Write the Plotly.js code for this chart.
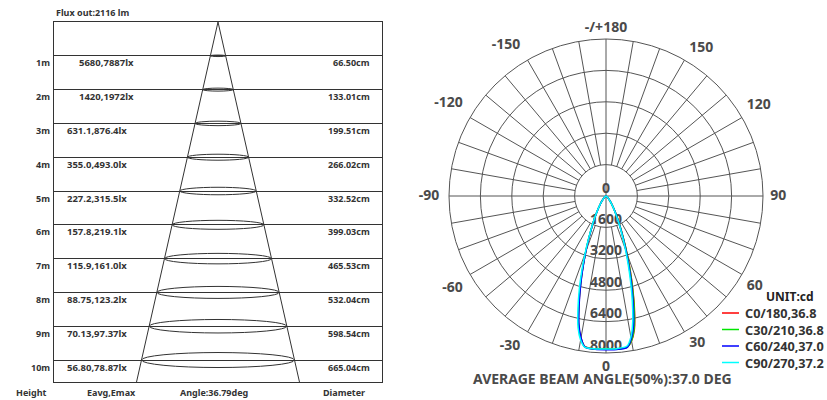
<!DOCTYPE html>
<html><head><meta charset="utf-8">
<script src="https://cdn.plot.ly/plotly-3.0.1.min.js"></script>
<style>html,body{margin:0;padding:0;background:#fff}#chart{width:827px;height:400px}</style>
</head><body><div id="chart"></div>
<script>
// ---------- data ----------
const fluxOut = 2116;
const beamAngle = 36.79;
const avgBeamAngle = 37.0;
const heights = [1,2,3,4,5,6,7,8,9,10];
const illuminance = ['5680,7887lx','1420,1972lx','631.1,876.4lx','355.0,493.0lx','227.2,315.5lx','157.8,219.1lx','115.9,161.0lx','88.75,123.2lx','70.13,97.37lx','56.80,78.87lx'];
const diameters = [66.50,133.01,199.51,266.02,332.52,399.03,465.53,532.04,598.54,665.04];
const bottomLabels = ['Height','Eavg,Emax','Angle:36.79deg','Diameter'];

const angTickVals = [0,30,60,90,120,150,180,210,240,270,300,330];
const angTickText = ['0','30','60','90','120','150','-/+180','-150','-120','-90','-60','-30'];
const radialTicks = [0,1600,3200,4800,6400,8000];

const theta = [-90,-80,-70,-60,-50,-40,-35,-30,-26,-22,-20,-18,-16,-14,-12,-10,-8,-4,0,4,8,10,12,14,16,18,20,22,26,30,35,40,50,60,70,80,90];
const c0   = [0,5,15,40,100,280,500,900,1450,2350,3000,3800,4700,5700,6700,7350,7750,7810,7800,7820,7780,7500,6950,6000,4950,4000,3150,2450,1500,930,510,285,100,40,15,5,0];
const c30  = [0,5,15,40,100,280,500,900,1460,2370,3020,3830,4730,5730,6720,7370,7760,7810,7800,7820,7780,7480,6900,5950,4900,3950,3120,2420,1490,920,505,282,100,40,15,5,0];
const c60  = [0,5,15,40,100,280,500,900,1440,2330,2980,3770,4670,5650,6650,7330,7760,7830,7830,7840,7790,7400,6750,5750,4750,3820,3020,2370,1460,905,500,280,100,40,15,5,0];
const c90  = [0,5,15,40,100,285,510,920,1500,2420,3120,3980,4930,5900,6850,7450,7780,7810,7800,7800,7720,7300,6550,5550,4550,3650,2880,2270,1420,880,490,275,100,40,15,5,0];
const seriesNames = ['C0/180,36.8','C30/210,36.8','C60/240,37.0','C90/270,37.2'];
const seriesValues = [c0, c30, c60, c90];
const seriesColors = ['#ff0000','#00e600','#0000ff','#00ffff'];

// ---------- helpers ----------
const W = 827, H = 400;
const PX = x => x / W;
const PY = y => 1 - y / H;
const FONT = 'Noto Sans, DejaVu Sans, sans-serif';
const dark = '#333333';
const grey = '#4a4a4a';

const yBottom = 10.65;
const halfTan = Math.tan(beamAngle / 2 * Math.PI / 180);
const rMax = radialTicks[radialTicks.length - 1];

const traces = [];
// cone
traces.push({
  type: 'scatter', mode: 'lines', xaxis: 'x', yaxis: 'y',
  x: [-halfTan * yBottom, 0, halfTan * yBottom],
  y: [yBottom, 0, yBottom],
  line: {color: dark, width: 1}, hoverinfo: 'skip', showlegend: false, cliponaxis: false
});

// polar spokes
const spR = [], spT = [];
for (let a = 0; a < 360; a += 10) {
  spR.push(a % 90 === 0 ? 0 : radialTicks[1], rMax, null);
  spT.push(a, a, null);
}
traces.push({
  type: 'scatterpolar', mode: 'lines', r: spR, theta: spT, subplot: 'polar',
  line: {color: '#555', width: 1}, hoverinfo: 'skip', showlegend: false, connectgaps: false
});
// radial labels
traces.push({
  type: 'scatterpolar', mode: 'text', subplot: 'polar',
  r: radialTicks, theta: radialTicks.map(() => 0), text: radialTicks.map(String),
  textposition: 'top center', cliponaxis: false,
  textfont: {family: FONT, size: 14, color: grey, weight: 'bold'},
  hoverinfo: 'skip', showlegend: false
});
// angular labels (placed just outside the outer ring; invisible markers set the standoff)
const angPos = angTickVals.map(a => {
  const ux = Math.sin(a * Math.PI / 180), uy = -Math.cos(a * Math.PI / 180);
  const v = uy > 0.3 ? 'top' : (uy < -0.3 ? 'bottom' : 'middle');
  const h = ux > 0.3 ? 'right' : (ux < -0.3 ? 'left' : 'center');
  return v + ' ' + h;
});
const angStandoff = angTickVals.map((a, i) => {
  const t = angTickText[i];
  if (t === '-/+180') return 4;
  const neg = t.charAt(0) === '-';
  if (a % 90 === 0) return neg ? 14 : 10;
  return neg ? 10 : 6;
});
traces.push({
  type: 'scatterpolar', mode: 'markers+text', subplot: 'polar',
  r: angTickVals.map(() => rMax), theta: angTickVals, text: angTickText,
  textposition: angPos, cliponaxis: false,
  marker: {size: angStandoff, color: 'rgba(0,0,0,0)', line: {width: 0}},
  textfont: {family: FONT, size: 14, color: grey, weight: 'bold'},
  hoverinfo: 'skip', showlegend: false
});
// curves
seriesValues.forEach((vals, i) => {
  traces.push({
    type: 'scatterpolar', mode: 'lines', subplot: 'polar',
    r: vals, theta: theta, name: seriesNames[i],
    line: {color: seriesColors[i], width: 1.5, shape: 'spline', smoothing: 0.8},
    showlegend: false, hoverinfo: 'skip'
  });
});

// ---------- shapes & annotations ----------
const shapes = [];
const annotations = [];
const smallFont = s => ({family: FONT, size: s, color: dark, weight: 'bold'});
heights.forEach((h, i) => {
  const r = diameters[i] / 200;
  const hh = 0.0667 * r;
  shapes.push({type: 'circle', xref: 'x', yref: 'y', x0: -r, x1: r, y0: h - hh, y1: h + hh,
    line: {color: dark, width: 1}});
  annotations.push({xref: 'paper', yref: 'y', x: PX(52), y: h, xanchor: 'right', yanchor: 'middle', yshift: -7,
    text: h + 'm', showarrow: false, font: smallFont(9)});
  const s = illuminance[i];
  annotations.push({xref: 'paper', yref: 'y', x: PX(s.length < 13 ? 77 : 65), y: h, xanchor: 'left', yanchor: 'middle', yshift: -7,
    text: s, showarrow: false, font: smallFont(9.5)});
  annotations.push({xref: 'paper', yref: 'y', x: PX(372), y: h, xanchor: 'right', yanchor: 'middle', yshift: -7,
    text: diameters[i].toFixed(2) + 'cm', showarrow: false, font: smallFont(9)});
});
annotations.push({xref: 'paper', yref: 'paper', x: PX(54), y: PY(13), xanchor: 'left', yanchor: 'middle',
  text: 'Flux out:' + fluxOut + ' lm', showarrow: false, font: smallFont(9)});
const bottomX = [31, 111, 214, 344];
bottomLabels.forEach((t, i) => {
  annotations.push({xref: 'paper', yref: 'paper', x: PX(bottomX[i]), y: PY(392), xanchor: 'center', yanchor: 'middle',
    text: t, showarrow: false, font: smallFont(9)});
});
annotations.push({xref: 'paper', yref: 'paper', x: PX(602), y: PY(378), xanchor: 'center', yanchor: 'middle',
  text: 'AVERAGE BEAM ANGLE(50%):' + avgBeamAngle.toFixed(1) + ' DEG', showarrow: false,
  font: {family: FONT, size: 14, color: grey, weight: 'bold'}});
// manual legend
annotations.push({xref: 'paper', yref: 'paper', x: PX(790), y: PY(296), xanchor: 'center', yanchor: 'middle',
  text: 'UNIT:cd', showarrow: false, font: {family: FONT, size: 12, color: '#222', weight: 'bold'}});
const legTop = 313, legStep = 16.5;
seriesNames.forEach((n, i) => {
  const yy = legTop + legStep * i;
  shapes.push({type: 'line', xref: 'paper', yref: 'paper', x0: PX(722), x1: PX(739), y0: PY(yy), y1: PY(yy),
    line: {color: seriesColors[i], width: 1.5}});
});
annotations.push({xref: 'paper', yref: 'paper', x: PX(743), y: PY(legTop + legStep * 1.5), xanchor: 'left', yanchor: 'middle',
  align: 'left', text: seriesNames.join('<br>'), showarrow: false,
  font: {family: FONT, size: 12.7, color: dark, weight: 'bold'}});

const layout = {
  width: W, height: H,
  margin: {l: 0, r: 0, t: 0, b: 0},
  paper_bgcolor: '#fff', plot_bgcolor: '#fff',
  showlegend: false,
  font: {family: FONT, color: dark},
  xaxis: {domain: [PX(54), PX(382)], range: [-7.13, 7.13], showgrid: false, zeroline: false,
    showticklabels: false, ticks: '', showline: true, mirror: true, linecolor: dark, linewidth: 1, fixedrange: true},
  yaxis: {domain: [PY(382), PY(22)], range: [yBottom, 0], tickvals: heights, showgrid: true, gridcolor: dark, gridwidth: 1,
    zeroline: false, showticklabels: false, ticks: '', showline: true, mirror: true, linecolor: dark, linewidth: 1, fixedrange: true},
  polar: {
    domain: {x: [PX(449), PX(763)], y: [PY(353), PY(39)]},
    bgcolor: '#fff',
    radialaxis: {range: [0, rMax], tickvals: radialTicks.slice(1, -1), showticklabels: false, ticks: '',
      showgrid: true, gridcolor: '#555', gridwidth: 1, showline: false, angle: 0},
    angularaxis: {rotation: -90, direction: 'counterclockwise', tickvals: angTickVals,
      showticklabels: false, showgrid: false, ticks: '', showline: true, linecolor: '#555', linewidth: 1}
  },
  shapes: shapes,
  annotations: annotations
};
Plotly.newPlot('chart', traces, layout, {staticPlot: true, displayModeBar: false});
</script>
</body></html>
